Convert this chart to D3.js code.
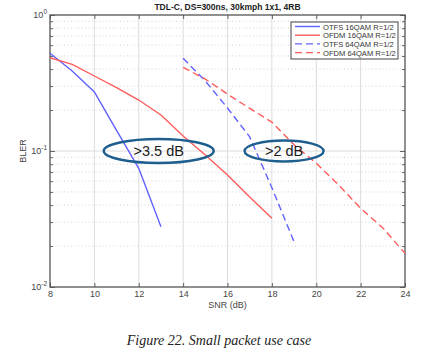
<!DOCTYPE html>
<html><head><meta charset="utf-8">
<script src="https://cdn.jsdelivr.net/npm/d3@7"></script>
<style>
body{margin:0;background:#fff;}
svg{display:block;}
</style></head>
<body>
<svg id="c" width="440" height="357"></svg>
<script>
// ---- data ----
const title = "TDL-C, DS=300ns, 30kmph 1x1, 4RB";
const xLabel = "SNR (dB)";
const yLabel = "BLER";
const caption = "Figure 22. Small packet use case";
const xTicks = [8,10,12,14,16,18,20,22,24];
const yDecades = [0.01, 0.1, 1];
const yDecadeExp = ["-2", "-1", "0"];
const seriesNames = ["OTFS 16QAM R=1/2","OFDM 16QAM R=1/2","OTFS 64QAM R=1/2","OFDM 64QAM R=1/2"];

const otfs16Snr = [8,9,10,11,12,13];
const otfs16Bler = [0.523,0.388,0.272,0.142,0.0746,0.0277];
const ofdm16Snr = [8,9,10,11,12,13,14,15,16,17,18];
const ofdm16Bler = [0.485,0.434,0.356,0.292,0.237,0.184,0.129,0.0935,0.0666,0.0459,0.032];
const otfs64Snr = [14,15,16,17,18,19];
const otfs64Bler = [0.48,0.327,0.207,0.127,0.0537,0.0215];
const ofdm64Snr = [14,15,16,17,18,19,20,21,22,23,24];
const ofdm64Bler = [0.412,0.338,0.262,0.206,0.163,0.111,0.0813,0.0565,0.0379,0.0272,0.0177];

const annotations = [
  {text: ">3.5 dB", snr: 12.9, bler: 0.1},
  {text: ">2 dB", snr: 18.55, bler: 0.1}
];

// ---- chart ----
const svg = d3.select("#c");
const L = 50, R = 405, T = 15, B = 287;
const x = d3.scaleLinear().domain([8,24]).range([L,R]);
const y = d3.scaleLog().domain([0.01,1]).range([B,T]);

const blue = "#6262ff", red = "#ff5c5c";
const series = [
  {snr: otfs16Snr, bler: otfs16Bler, color: blue, dash: null},
  {snr: ofdm16Snr, bler: ofdm16Bler, color: red, dash: null},
  {snr: otfs64Snr, bler: otfs64Bler, color: blue, dash: "7,4"},
  {snr: ofdm64Snr, bler: ofdm64Bler, color: red, dash: "7,4"}
];

// grid
const minorVals = [];
[0.01,0.1].forEach(d => { for (let k=2;k<=9;k++) minorVals.push(d*k); });
svg.append("g").selectAll("line").data(minorVals).join("line")
  .attr("x1",L).attr("x2",R).attr("y1",d=>y(d)).attr("y2",d=>y(d))
  .attr("stroke","#c8c8c8").attr("stroke-width",0.8).attr("stroke-dasharray","1,2.5");
svg.append("g").selectAll("line").data([0.1]).join("line")
  .attr("x1",L).attr("x2",R).attr("y1",d=>y(d)).attr("y2",d=>y(d))
  .attr("stroke","#dcdcdc").attr("stroke-width",1);
svg.append("g").selectAll("line").data(xTicks.slice(1,-1)).join("line")
  .attr("x1",d=>x(d)).attr("x2",d=>x(d)).attr("y1",T).attr("y2",B)
  .attr("stroke","#dcdcdc").attr("stroke-width",1);

// axes
const axisColor = "#555";
function styleAxis(g){
  g.select(".domain").remove();
  g.selectAll(".tick line").attr("stroke",axisColor).attr("stroke-width",0.9);
  g.selectAll("text").attr("fill","#444").attr("font-family","Liberation Sans, Arial, sans-serif").attr("font-size",9);
}
svg.append("g").attr("transform",`translate(0,${B})`)
  .call(d3.axisBottom(x).tickValues(xTicks).tickFormat(d3.format("d")).tickSizeInner(-4).tickSizeOuter(0).tickPadding(4))
  .call(styleAxis);
svg.append("g").attr("transform",`translate(0,${T})`)
  .call(d3.axisTop(x).tickValues(xTicks).tickFormat("").tickSizeInner(-4).tickSizeOuter(0))
  .call(styleAxis);
svg.append("g").attr("transform",`translate(${L},0)`)
  .call(d3.axisLeft(y).tickValues(yDecades).tickFormat("").tickSizeInner(-5).tickSizeOuter(0))
  .call(styleAxis);
svg.append("g").attr("transform",`translate(${L},0)`)
  .call(d3.axisLeft(y).tickValues(minorVals).tickFormat("").tickSizeInner(-3).tickSizeOuter(0))
  .call(styleAxis);
svg.append("g").attr("transform",`translate(${R},0)`)
  .call(d3.axisRight(y).tickValues(yDecades).tickFormat("").tickSizeInner(-5).tickSizeOuter(0))
  .call(styleAxis);
svg.append("g").attr("transform",`translate(${R},0)`)
  .call(d3.axisRight(y).tickValues(minorVals).tickFormat("").tickSizeInner(-3).tickSizeOuter(0))
  .call(styleAxis);

// y decade labels
const yl = svg.append("g").selectAll("text").data(yDecades).join("text")
  .attr("x", L-3).attr("y", d=>y(d)+3).attr("text-anchor","end")
  .attr("font-family","Liberation Sans, Arial, sans-serif").attr("font-size",9).attr("fill","#444");
yl.append("tspan").text("10");
yl.append("tspan").attr("font-size",6.5).attr("dy",-4).text((d,i)=>yDecadeExp[i]);

// box
svg.append("rect").attr("x",L).attr("y",T).attr("width",R-L).attr("height",B-T)
  .attr("fill","none").attr("stroke",axisColor).attr("stroke-width",1.3);

// lines
const line = d3.line().x(d=>x(d[0])).y(d=>y(d[1]));
svg.append("g").selectAll("path").data(series).join("path")
  .attr("d", s => line(s.snr.map((v,i)=>[v, s.bler[i]])))
  .attr("fill","none").attr("stroke",s=>s.color).attr("stroke-width",1.4)
  .attr("stroke-dasharray",s=>s.dash);

// title & labels
svg.append("text").attr("x",(L+R)/2).attr("y",10).attr("text-anchor","middle")
  .attr("font-family","Liberation Sans, Arial, sans-serif").attr("font-size",8.5).attr("font-weight","bold")
  .attr("fill","#222").text(title);
svg.append("text").attr("x",(L+R)/2).attr("y",308).attr("text-anchor","middle")
  .attr("font-family","Liberation Sans, Arial, sans-serif").attr("font-size",9).attr("fill","#444").text(xLabel);
svg.append("text").attr("transform",`translate(26,${(T+B)/2}) rotate(-90)`).attr("text-anchor","middle")
  .attr("font-family","Liberation Sans, Arial, sans-serif").attr("font-size",9).attr("fill","#444").text(yLabel);

// legend
const lg = svg.append("g").attr("transform","translate(291,22)");
lg.append("rect").attr("width",107).attr("height",37).attr("fill","#fff").attr("stroke","#444").attr("stroke-width",1);
const items = lg.selectAll("g.it").data(series).join("g").attr("class","it")
  .attr("transform",(d,i)=>`translate(0,${4.5+i*8.7})`);
items.append("line").attr("x1",4).attr("x2",29).attr("y1",0).attr("y2",0)
  .attr("stroke",d=>d.color).attr("stroke-width",1.4).attr("stroke-dasharray",d=>d.dash);
items.append("text").attr("x",32).attr("y",3).attr("font-family","Liberation Sans, Arial, sans-serif")
  .attr("font-size",7.6).attr("fill","#333").text((d,i)=>seriesNames[i]);

// annotations
const ann = svg.append("g").selectAll("g").data(annotations).join("g")
  .attr("transform",d=>`translate(${x(d.snr)},${y(d.bler)})`);
ann.append("ellipse").attr("rx",(d,i)=>i===0?55:39.5).attr("ry",(d,i)=>i===0?12:10.5)
  .attr("fill","none").attr("stroke","#1f5f8f").attr("stroke-width",2.4);
ann.append("text").attr("text-anchor","middle").attr("y",5)
  .attr("font-family","Liberation Sans, Arial, sans-serif").attr("font-size",14.5).attr("fill","#1a1a1a")
  .text(d=>d.text);

// caption
svg.append("text").attr("x",219).attr("y",345).attr("text-anchor","middle")
  .attr("font-family","Liberation Serif, Times New Roman, serif").attr("font-style","italic").attr("font-size",14)
  .attr("fill","#222").text(caption);
</script>
</body></html>
